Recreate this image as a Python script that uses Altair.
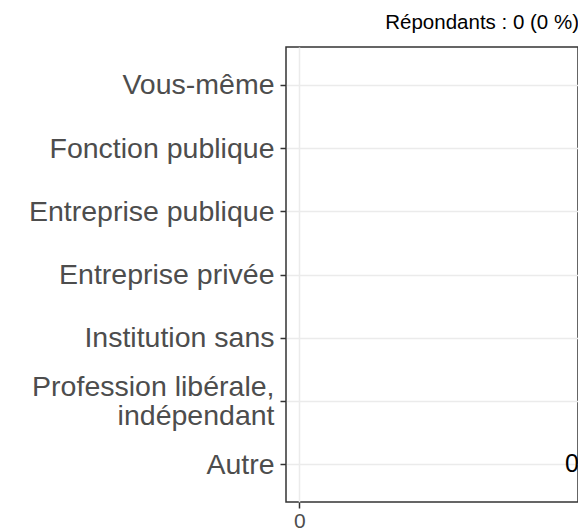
import altair as alt
import pandas as pd

categories = [
    "Vous-même",
    "Fonction publique",
    "Entreprise publique",
    "Entreprise privée",
    "Institution sans",
    "Profession libérale, indépendant",
    "Autre",
]
values = [0, 0, 0, 0, 0, 0, 0]
label_category = ["Autre"]
label_text = ["0"]
x_ticks = [0]
title_text = "Répondants : 0 (0 %)"

df = pd.DataFrame({"cat": categories, "val": values})
lab = pd.DataFrame({"cat": label_category, "txt": label_text})

FONT = "Liberation Sans"
W, H = 292, 455
MULTI = "Profession libérale, indépendant"

y_enc = alt.Y(
    "cat:N",
    sort=categories,
    title=None,
    scale=alt.Scale(type="point", padding=0.6),
    axis=alt.Axis(
        labelFontSize=28.5,
        labelColor="#4d4d4d",
        labelFont=FONT,
        labelPadding=6,
        labelLimit=1000,
        labelLineHeight=29,
        labelExpr="datum.value == '" + MULTI + "' ? ['Profession libérale,', 'indépendant'] : datum.label",
        labelOffset={"condition": {"test": "datum.value == '" + MULTI + "'", "value": -14}, "value": 0},
        tickColor="#333333",
        tickSize=6,
        tickWidth=1.5,
        domain=False,
        grid=True,
        gridColor="#ebebeb",
        gridWidth=1.5,
    ),
)

x_scale = alt.Scale(domain=[-0.05, 1.05], nice=False, zero=False)

bars = alt.Chart(df).mark_bar(color="#4e79a7").encode(
    x=alt.X(
        "val:Q",
        title=None,
        scale=x_scale,
        axis=alt.Axis(
            values=x_ticks,
            labelFontSize=21,
            labelColor="#4d4d4d",
            labelFont=FONT,
            labelPadding=2,
            tickColor="#333333",
            tickSize=6,
            tickWidth=1.5,
            domain=False,
            grid=True,
            gridColor="#ebebeb",
            gridWidth=1.5,
        ),
    ),
    x2=alt.datum(0),
    y=y_enc,
)

text = alt.Chart(lab).mark_text(
    align="right", baseline="middle", fontSize=25, font=FONT, color="black", dx=1
).encode(
    x=alt.value(W),
    y=alt.Y("cat:N", sort=categories, scale=alt.Scale(type="point", padding=0.6)),
    text="txt:N",
)

chart = (
    alt.layer(bars, text)
    .properties(
        width=W,
        height=H,
        autosize=alt.AutoSizeParams(type="none"),
        padding={"left": 278, "top": 39, "right": 0, "bottom": 30},
        title=alt.TitleParams(
            title_text,
            anchor="end",
            fontSize=20.5,
            font=FONT,
            fontWeight="normal",
            color="black",
            offset=14,
        ),
    )
    .configure_view(stroke="#333333", strokeWidth=1.5)
)

chart.save("out.html", embed_options={"renderer": "svg", "actions": False})
